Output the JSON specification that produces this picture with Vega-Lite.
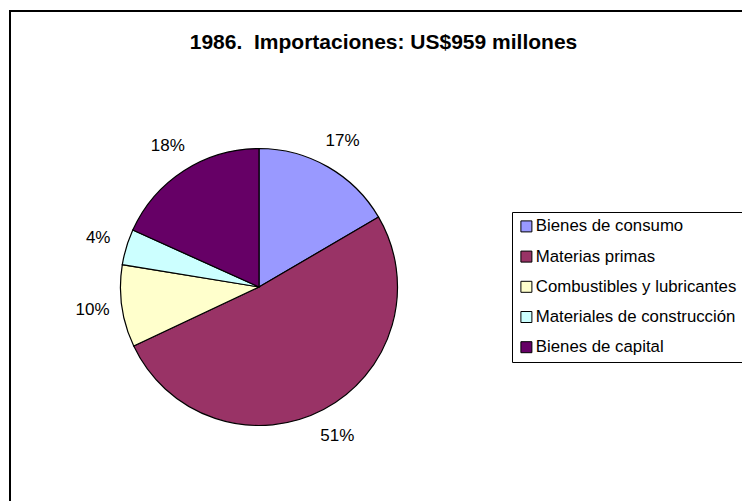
{
  "$schema": "https://vega.github.io/schema/vega-lite/v6.json",
  "autosize": "none",
  "padding": {"left": 10, "top": 11, "right": 0, "bottom": 0},
  "width": 747,
  "height": 552,
  "background": "white",
  "config": {
    "view": {"stroke": "black", "strokeWidth": 2},
    "font": "Liberation Sans"
  },
  "title": {
    "text": "1986. \u00a0Importaciones: US$959 millones",
    "font": "Liberation Sans",
    "fontSize": 21,
    "fontWeight": "bold",
    "color": "black",
    "anchor": "middle",
    "frame": "group",
    "offset": -42
  },
  "data": {
    "values": [
      {"categoria": "Bienes de consumo", "valor": 159, "orden": 1},
      {"categoria": "Materias primas", "valor": 493, "orden": 2},
      {"categoria": "Combustibles y lubricantes", "valor": 92, "orden": 3},
      {"categoria": "Materiales de construcción", "valor": 40, "orden": 4},
      {"categoria": "Bienes de capital", "valor": 175, "orden": 5}
    ]
  },
  "transform": [
    {"joinaggregate": [{"op": "sum", "field": "valor", "as": "total"}]},
    {"calculate": "datum.valor / datum.total", "as": "porcentaje"}
  ],
  "encoding": {
    "theta": {"field": "valor", "type": "quantitative", "stack": true},
    "order": {"field": "orden", "type": "quantitative"},
    "x": {"datum": 1, "type": "quantitative", "scale": {"domain": [0, 3]}, "axis": null},
    "color": {
      "field": "categoria",
      "type": "nominal",
      "sort": ["Bienes de consumo", "Materias primas", "Combustibles y lubricantes", "Materiales de construcción", "Bienes de capital"],
      "scale": {
        "domain": ["Bienes de consumo", "Materias primas", "Combustibles y lubricantes", "Materiales de construcción", "Bienes de capital"],
        "range": ["#9999FF", "#993366", "#FFFFCC", "#CCFFFF", "#660066"]
      },
      "legend": {
        "title": null,
        "orient": "none",
        "legendX": 502,
        "legendY": 201,
        "direction": "vertical",
        "symbolType": "square",
        "symbolSize": 121,
        "symbolStrokeColor": "black",
        "symbolStrokeWidth": 1,
        "labelFont": "Liberation Sans",
        "labelFontSize": 16.8,
        "labelColor": "black",
        "labelLimit": 400,
        "labelOffset": 1,
        "rowPadding": 12.2,
        "strokeColor": "black",
        "padding": 6,
        "fillColor": "white"
      }
    }
  },
  "layer": [
    {
      "mark": {"type": "arc", "outerRadius": 138.5, "stroke": "black", "strokeWidth": 1.2}
    },
    {
      "mark": {"type": "text", "radius": 168, "font": "Liberation Sans", "fontSize": 17, "color": "black", "align": "center", "baseline": "middle"},
      "encoding": {
        "text": {"field": "porcentaje", "type": "quantitative", "format": ".0%"},
        "color": {"value": "black"}
      }
    }
  ]
}
